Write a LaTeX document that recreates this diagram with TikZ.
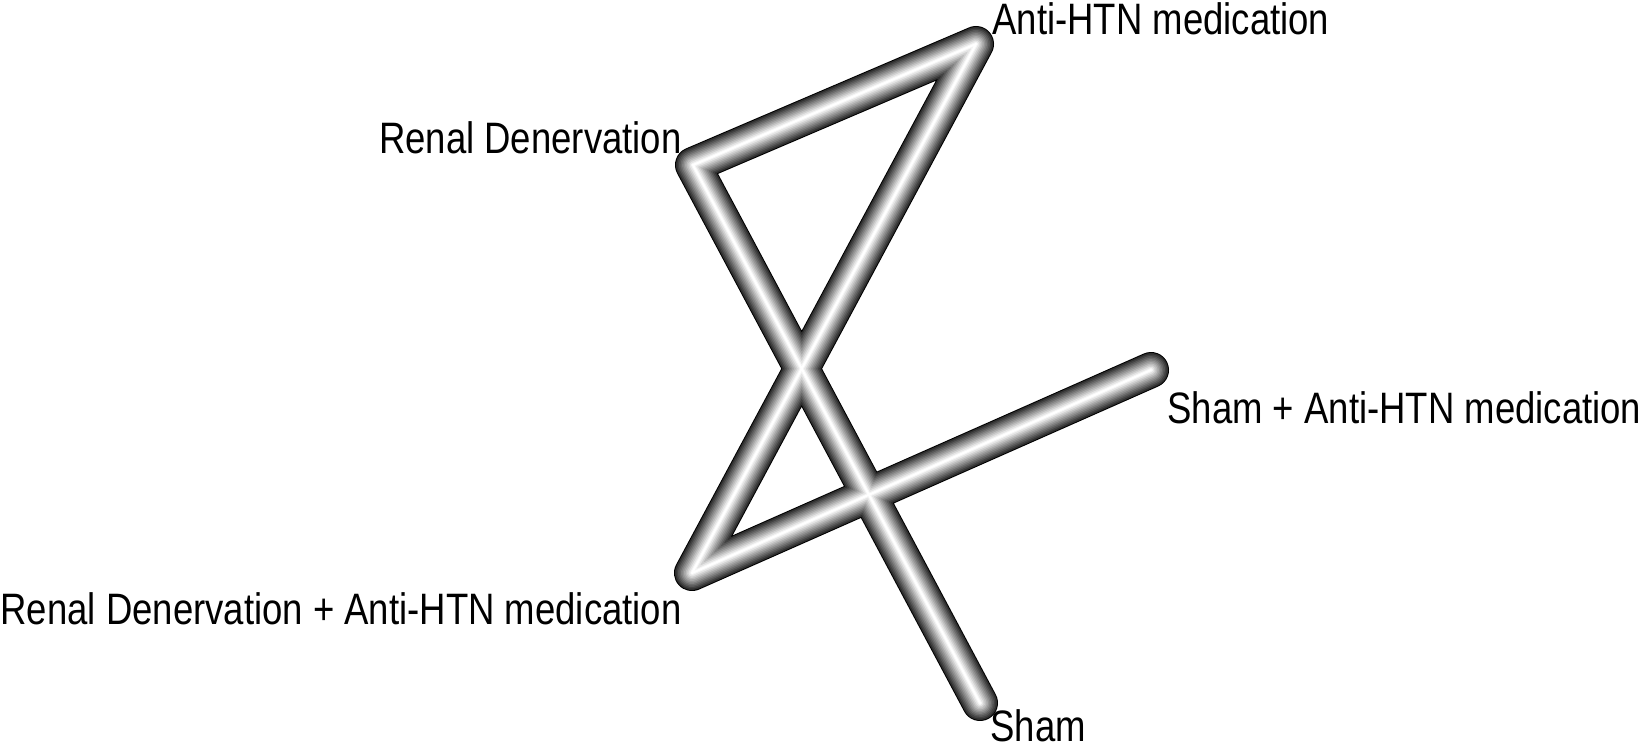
\documentclass[tikz,border=0pt]{standalone}
\usepackage{fontspec}
\setmainfont{Liberation Sans}[FakeStretch=0.83]
\usepackage{tikz}
\usetikzlibrary{positioning}
\tikzset{
    every node/.style={font=\fontsize{22}{24}\selectfont},
    trlabel/.style={inner sep=0pt,text=black},
    tube/.style={line cap=round,line join=round}
}
\begin{document}
\begin{tikzpicture}[x=0.5pt,y=-0.5pt]
\useasboundingbox (0,0) rectangle (1642,749);
% treatments
\coordinate (antihtn) at (976,44);
\coordinate (rd) at (693,165);
\coordinate (shammed) at (1151,370);
\coordinate (rdmed) at (692,573);
\coordinate (sham) at (980,703);
\node[trlabel,anchor=base west] (antihtnlab) at (992,35) {Anti-HTN medication};
\node[trlabel,anchor=base east] (rdlab) at (682,154) {Renal Denervation};
\node[trlabel,anchor=base west] (shammedlab) at (1167,423) {Sham + Anti-HTN medication};
\node[trlabel,anchor=base east] (rdmedlab) at (682,624) {Renal Denervation + Anti-HTN medication};
\node[trlabel,anchor=base west] (shamlab) at (990,741) {Sham};
% comparisons, shaded one layer at a time
\foreach \w/\g in {36/100,34/82,31/74,28/66,25/58,22/50,19/42,16/34,13/26,10/18,7/10,4/4,2/0}{
    \draw[tube,line width=\w*0.5pt,black!\g]
        (antihtn) -- (rd) -- (sham)
        (antihtn) -- (rdmed) -- (shammed);
}
\end{tikzpicture}
\end{document}
